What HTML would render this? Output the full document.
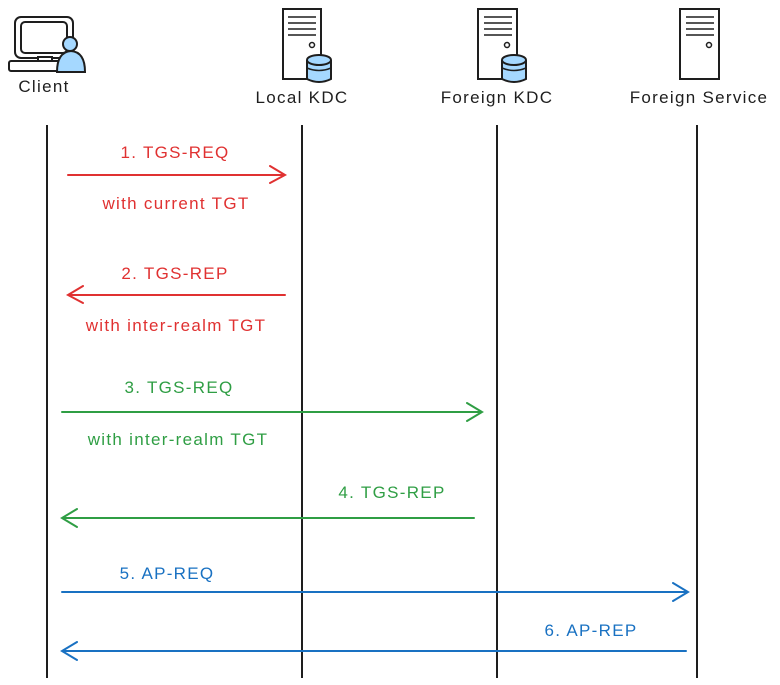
<!DOCTYPE html>
<html><head><meta charset="utf-8"><style>
html,body{margin:0;padding:0;background:#fff;}
svg{display:block}
text{font-family:"Liberation Sans",sans-serif;font-size:17px;letter-spacing:1.3px;}
</style></head><body>
<svg width="780" height="685" viewBox="0 0 780 685" xmlns="http://www.w3.org/2000/svg">
<g stroke="#1e1e1e" stroke-width="2" fill="none">
 <rect x="15" y="17" width="58" height="41" rx="6" fill="#fff"/>
 <rect x="21" y="22" width="46" height="31" rx="4"/>
 <rect x="38" y="57" width="14" height="4" fill="#fff"/>
 <rect x="9" y="61" width="54" height="10" rx="2" fill="#fff"/>
 <path d="M57 72 Q57 52 71 51 Q85 52 85 72 Z" fill="#a5d8ff"/>
 <circle cx="70" cy="44" r="7" fill="#a5d8ff"/>
 <rect x="283" y="9" width="38" height="70" fill="#fff"/>
 <path d="M288 17h28M288 23h28M288 29h28M288 35h28" stroke-width="1.5"/>
 <circle cx="312" cy="45" r="2.5" stroke-width="1.5"/>
 <rect x="478" y="9" width="39" height="70" fill="#fff"/>
 <path d="M484 17h28M484 23h28M484 29h28M484 35h28" stroke-width="1.5"/>
 <circle cx="507" cy="45" r="2.5" stroke-width="1.5"/>
 <rect x="680" y="9" width="39" height="70" fill="#fff"/>
 <path d="M686 17h28M686 23h28M686 29h28M686 35h28" stroke-width="1.5"/>
 <circle cx="709" cy="45" r="2.5" stroke-width="1.5"/>
 <path d="M307 60 v19 q12 6 24 0 v-19" fill="#a5d8ff"/>
 <ellipse cx="319" cy="60" rx="12" ry="5" fill="#a5d8ff"/>
 <path d="M307 68 q12 5 24 0" stroke-width="1.5"/>
 <path d="M502 60 v19 q12 6 24 0 v-19" fill="#a5d8ff"/>
 <ellipse cx="514" cy="60" rx="12" ry="5" fill="#a5d8ff"/>
 <path d="M502 68 q12 5 24 0" stroke-width="1.5"/>
 <path d="M47 125V678M302 125V678M497 125V678M697 125V678"/>
</g>
<g fill="#1e1e1e">
 <text x="44" y="92" text-anchor="middle">Client</text>
 <text x="302" y="103" text-anchor="middle">Local KDC</text>
 <text x="497" y="103" text-anchor="middle">Foreign KDC</text>
 <text x="699" y="103" text-anchor="middle">Foreign Service</text>
</g>
<g stroke-width="2" fill="none" stroke-linecap="round">
 <path d="M68 175H285M270 166L285 175L270 183" stroke="#e03131"/>
 <path d="M285 295H68M83 286L68 295L83 303" stroke="#e03131"/>
 <path d="M62 412H482M467 403L482 412L467 421" stroke="#2f9e44"/>
 <path d="M474 518H62M77 509L62 518L77 527" stroke="#2f9e44"/>
 <path d="M62 592H688M673 583L688 592L673 601" stroke="#1971c2"/>
 <path d="M686 651H62M77 642L62 651L77 660" stroke="#1971c2"/>
</g>
<g fill="#e03131" text-anchor="middle">
 <text x="175" y="158">1. TGS-REQ</text>
 <text x="176" y="209">with current TGT</text>
 <text x="175" y="279">2. TGS-REP</text>
 <text x="176" y="331">with inter-realm TGT</text>
</g>
<g fill="#2f9e44" text-anchor="middle">
 <text x="179" y="393">3. TGS-REQ</text>
 <text x="178" y="445">with inter-realm TGT</text>
 <text x="392" y="498">4. TGS-REP</text>
</g>
<g fill="#1971c2" text-anchor="middle">
 <text x="167" y="579">5. AP-REQ</text>
 <text x="591" y="636">6. AP-REP</text>
</g>
</svg>
</body></html>
